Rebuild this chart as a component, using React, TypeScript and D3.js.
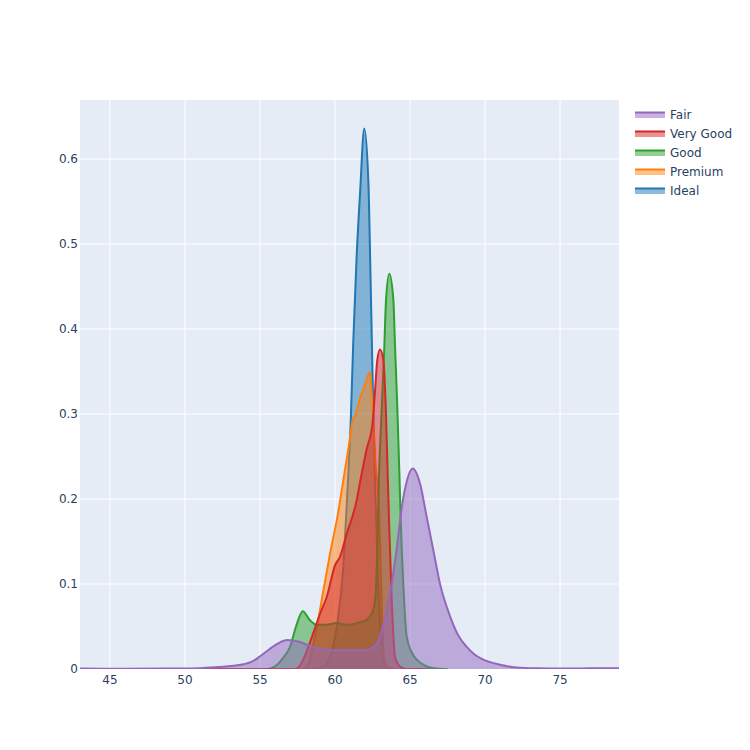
import React, { useEffect, useRef } from "react";
import * as d3 from "d3";

// depth values (x) and kde density (y) per cut
const idealX = [43, 58.5, 59.2, 59.8, 60.2, 60.55, 60.8, 61.05, 61.22, 61.45, 61.67, 61.95, 62.22, 62.38, 62.52, 62.7, 62.9, 63.1, 63.3, 63.6, 64.5, 66.7];
const idealY = [0, 0, 0.003, 0.022, 0.06, 0.12, 0.2, 0.293, 0.387, 0.489, 0.56, 0.636, 0.575, 0.45, 0.33, 0.2, 0.09, 0.03, 0.008, 0.001, 0, 0];

const premiumX = [43, 57.8, 58.2, 58.5, 58.8, 59.2, 59.67, 60.2, 60.55, 60.9, 61.18, 61.4, 61.62, 61.9, 62.1, 62.3, 62.5, 62.7, 62.9, 63.0, 63.1, 63.25, 63.5, 64, 66];
const premiumY = [0, 0, 0.005, 0.025, 0.05, 0.09, 0.136, 0.183, 0.222, 0.26, 0.293, 0.3, 0.316, 0.33, 0.34, 0.349, 0.31, 0.24, 0.2, 0.15, 0.08, 0.02, 0.002, 0, 0];

const goodX = [43, 55.5, 56, 56.5, 57, 57.4, 57.85, 58.3, 58.8, 59.4, 60.1, 60.8, 61.45, 62.1, 62.45, 62.67, 62.82, 62.92, 63.07, 63.27, 63.4, 63.62, 63.89, 64.0, 64.15, 64.29, 64.38, 64.55, 64.78, 65.1, 65.45, 66, 66.6, 67.5];
const goodY = [0, 0, 0.003, 0.012, 0.026, 0.05, 0.068, 0.058, 0.052, 0.052, 0.054, 0.052, 0.054, 0.058, 0.065, 0.081, 0.14, 0.22, 0.289, 0.371, 0.434, 0.465, 0.434, 0.38, 0.309, 0.23, 0.175, 0.1, 0.038, 0.02, 0.011, 0.004, 0.001, 0];

const veryGoodX = [43, 57.3, 57.7, 58.3, 59.0, 59.45, 60.0, 60.33, 60.8, 61.45, 61.67, 62.1, 62.5, 62.67, 62.82, 63.0, 63.22, 63.38, 63.51, 63.6, 63.78, 64.0, 64.33, 64.8, 66];
const veryGoodY = [0, 0, 0.005, 0.03, 0.065, 0.085, 0.122, 0.132, 0.16, 0.199, 0.22, 0.258, 0.289, 0.328, 0.364, 0.376, 0.364, 0.309, 0.23, 0.175, 0.081, 0.014, 0.003, 0, 0];

const fairX = [43, 46, 49, 51, 52, 53, 53.9, 54.5, 55.0, 55.6, 56.2, 56.8, 57.6, 58.2, 58.8, 59.9, 61, 62.1, 62.5, 62.8, 63.2, 63.67, 64.1, 64.45, 64.8, 65.18, 65.67, 66.11, 66.55, 67.0, 67.67, 68.2, 68.78, 69.3, 69.89, 71, 72.1, 73.5, 75, 77, 79];
const fairY = [0.0005, 0.0004, 0.0005, 0.001, 0.002, 0.0035, 0.0055, 0.009, 0.015, 0.023, 0.03, 0.034, 0.032, 0.028, 0.024, 0.022, 0.022, 0.022, 0.025, 0.03, 0.05, 0.089, 0.14, 0.19, 0.222, 0.236, 0.218, 0.179, 0.14, 0.1, 0.062, 0.04, 0.026, 0.017, 0.011, 0.005, 0.0018, 0.0008, 0.0005, 0.0008, 0.001];

const cuts = ["Ideal", "Premium", "Good", "Very Good", "Fair"];
const colors = ["#1f77b4", "#ff7f0e", "#2ca02c", "#d62728", "#9467bd"];
const seriesX = [idealX, premiumX, goodX, veryGoodX, fairX];
const seriesY = [idealY, premiumY, goodY, veryGoodY, fairY];

const xTicks = [45, 50, 55, 60, 65, 70, 75];
const yTicks = [0, 0.1, 0.2, 0.3, 0.4, 0.5, 0.6];

const width = 750;
const height = 750;
const margin = { top: 100, right: 131, bottom: 81, left: 80 };

const DensityChart = () => {
  const ref: any = useRef(null);

  useEffect(() => {
    const font = "'DejaVu Sans', Verdana, sans-serif";
    const textColor = "#2a3f5f";
    const plotW = width - margin.left - margin.right;
    const plotH = height - margin.top - margin.bottom;

    const root = d3.select(ref.current);
    root.selectAll("*").remove();

    const svg = root
      .append("svg")
      .attr("width", width)
      .attr("height", height)
      .style("position", "absolute")
      .style("left", "0px")
      .style("top", "0px")
      .style("background", "#fff");

    const xScale = d3.scaleLinear().domain([43, 78.93]).range([margin.left, margin.left + plotW]);
    const yScale = d3.scaleLinear().domain([0, 0.6694]).range([margin.top + plotH, margin.top]);

    svg
      .append("rect")
      .attr("x", margin.left)
      .attr("y", margin.top)
      .attr("width", plotW)
      .attr("height", plotH)
      .attr("fill", "#e5ecf6");

    // grid
    const grid = svg.append("g");
    grid
      .selectAll("line.vx")
      .data(xTicks)
      .join("line")
      .attr("x1", (d) => xScale(d))
      .attr("x2", (d) => xScale(d))
      .attr("y1", margin.top)
      .attr("y2", margin.top + plotH)
      .attr("stroke", "#fff")
      .attr("stroke-width", 1);
    grid
      .selectAll("line.hy")
      .data(yTicks.slice(1))
      .join("line")
      .attr("x1", margin.left)
      .attr("x2", margin.left + plotW)
      .attr("y1", (d) => yScale(d))
      .attr("y2", (d) => yScale(d))
      .attr("stroke", "#fff")
      .attr("stroke-width", 1);

    svg
      .append("clipPath")
      .attr("id", "plot-clip")
      .append("rect")
      .attr("x", margin.left)
      .attr("y", margin.top)
      .attr("width", plotW)
      .attr("height", plotH);

    const area = d3
      .area<[number, number]>()
      .x((d) => xScale(d[0]))
      .y0(yScale(0))
      .y1((d) => yScale(d[1]))
      .curve(d3.curveMonotoneX);
    const line = d3
      .line<[number, number]>()
      .x((d) => xScale(d[0]))
      .y((d) => yScale(d[1]))
      .curve(d3.curveMonotoneX);

    const traces = svg.append("g").attr("clip-path", "url(#plot-clip)");
    cuts.forEach((cut, i) => {
      const pts: [number, number][] = seriesX[i].map((x, j) => [x, seriesY[i][j]]);
      const g = traces.append("g");
      g.append("path")
        .attr("d", area(pts) as string)
        .attr("fill", colors[i])
        .attr("fill-opacity", 0.5);
      g.append("path")
        .attr("d", line(pts) as string)
        .attr("fill", "none")
        .attr("stroke", colors[i])
        .attr("stroke-width", 2)
        .attr("stroke-linejoin", "round");
    });

    // tick labels
    svg
      .append("g")
      .selectAll("text")
      .data(xTicks)
      .join("text")
      .attr("x", (d) => xScale(d))
      .attr("y", margin.top + plotH + 14.5)
      .attr("text-anchor", "middle")
      .attr("font-family", font)
      .attr("font-size", 12)
      .attr("fill", textColor)
      .text((d) => d3.format("d")(d));
    svg
      .append("g")
      .selectAll("text")
      .data(yTicks)
      .join("text")
      .attr("x", margin.left - 2)
      .attr("y", (d) => yScale(d) + 4.3)
      .attr("text-anchor", "end")
      .attr("font-family", font)
      .attr("font-size", 12)
      .attr("fill", textColor)
      .text((d) => (d === 0 ? "0" : d3.format(".1f")(d)));

    // legend, same order as plotly shows it (reversed)
    const legend = svg.append("g").attr("transform", "translate(635, 115)");
    cuts
      .slice()
      .reverse()
      .forEach((cut, k) => {
        const i = cuts.indexOf(cut);
        const row = legend.append("g").attr("transform", `translate(0, ${k * 19})`);
        row
          .append("rect")
          .attr("x", 0)
          .attr("y", -3)
          .attr("width", 30)
          .attr("height", 6)
          .attr("fill", colors[i])
          .attr("fill-opacity", 0.5);
        row
          .append("line")
          .attr("x1", 0)
          .attr("x2", 30)
          .attr("y1", -2.5)
          .attr("y2", -2.5)
          .attr("stroke", colors[i])
          .attr("stroke-width", 2);
        row
          .append("text")
          .attr("x", 35)
          .attr("y", 4.3)
          .attr("font-family", font)
          .attr("font-size", 12)
          .attr("fill", textColor)
          .text(cut);
      });
  }, []);

  return <div id="chart" ref={ref}></div>;
};

export default function App() {
  return <DensityChart />;
}
